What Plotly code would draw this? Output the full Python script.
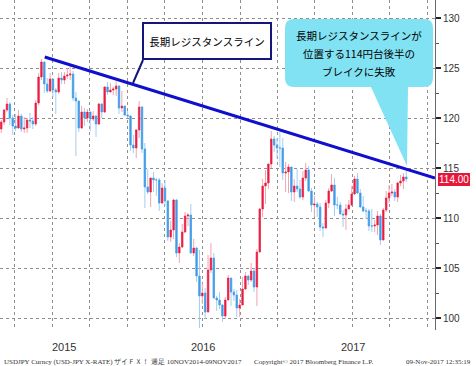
import plotly.graph_objects as go
import pandas as pd

# ---------------- data (weekly USDJPY, week-ending Fridays) ----------------
FIRST_WEEK = "2015-02-27"
OPEN = [118.9, 119.6, 120.8, 121.4, 120.0, 119.2, 119.0, 120.2, 118.9, 119.0,
        119.8, 119.7, 119.4, 121.5, 124.1, 125.6, 123.4, 122.7, 123.9, 122.8,
        122.6, 124.0, 123.8, 124.2, 124.3, 124.4, 122.0, 121.7, 119.0, 120.6,
        120.0, 120.6, 119.9, 120.2, 119.4, 121.4, 120.6, 123.1, 122.6, 122.8,
        122.9, 123.2, 121.0, 121.2, 120.3,
        120.2, 117.3, 117.0, 118.8, 121.1, 116.9, 113.1, 112.6, 114.0, 113.8,
        113.8, 111.5, 113.0, 111.7, 108.1, 108.8, 111.8, 106.5, 107.1, 108.6,
        110.2, 110.3, 106.5, 107.0, 104.2, 102.2, 102.5, 100.6, 104.8, 106.0,
        102.0, 101.8, 101.3, 100.2, 101.8, 104.0, 102.6, 102.3, 101.0, 101.3,
        102.9, 104.2, 103.8, 104.7, 103.1, 106.6, 110.9, 113.2, 113.5, 115.4,
        117.9, 117.3,
        117.0, 117.0, 114.5, 114.6, 115.1, 112.6, 113.2, 112.9, 112.1, 114.0,
        114.8, 112.7, 111.3, 111.4, 111.1, 109.1, 109.0, 111.5, 112.7, 113.3,
        111.3, 111.3, 110.4, 110.3, 110.9, 111.3, 112.4, 113.9, 112.5, 111.1,
        110.7, 110.7, 109.2, 109.2, 109.3, 110.2, 107.8, 110.8, 112.0, 112.5,
        112.6, 112.1, 113.5, 113.7, 114.1]
HIGH = [119.8, 120.9, 122.0, 121.6, 120.3, 120.4, 120.8, 120.4, 120.1, 120.0,
        120.5, 120.1, 121.8, 124.5, 125.9, 125.6, 124.0, 124.5, 123.9, 123.0,
        124.5, 124.6, 124.6, 125.0, 125.3, 124.7, 122.6, 121.7, 121.2, 121.0,
        120.9, 120.6, 120.7, 120.3, 121.5, 121.5, 123.2, 123.6, 123.5, 123.1,
        123.7, 123.3, 122.7, 121.2, 120.7,
        120.3, 118.3, 118.9, 121.7, 121.2, 117.5, 114.9, 114.0, 114.6, 114.0,
        114.0, 113.5, 113.8, 111.8, 109.7, 111.9, 111.9, 107.5, 109.4, 110.6,
        110.5, 111.4, 107.9, 107.1, 106.8, 103.5, 103.0, 106.3, 107.5, 106.5,
        102.2, 102.6, 101.4, 102.1, 104.3, 104.0, 102.9, 102.8, 101.9, 104.1,
        104.6, 104.3, 105.5, 105.0, 106.9, 111.0, 113.9, 114.8, 115.4, 118.7,
        118.2, 118.0,
        118.6, 118.0, 115.6, 115.4, 115.1, 113.9, 114.9, 113.8, 114.7, 115.5,
        115.2, 113.0, 112.2, 111.6, 111.5, 109.5, 111.8, 113.0, 114.4, 114.0,
        112.1, 111.6, 110.8, 111.4, 111.8, 113.2, 114.2, 114.5, 112.9, 112.2,
        111.0, 110.9, 110.9, 109.8, 110.7, 110.4, 111.0, 112.7, 113.3, 113.4,
        112.9, 113.6, 114.3, 114.5, 114.7]
LOW = [118.5, 119.3, 120.6, 119.3, 118.3, 118.7, 118.9, 118.6, 118.5, 118.5,
       119.0, 118.9, 119.2, 121.3, 123.8, 122.5, 122.5, 122.6, 122.1, 120.4,
       122.4, 123.4, 123.4, 123.9, 123.8, 121.7, 116.2, 118.6, 118.9, 119.2,
       119.6, 118.7, 119.7, 118.1, 119.3, 120.0, 120.5, 122.3, 122.6, 122.3,
       122.2, 120.4, 120.6, 120.2, 120.0,
       116.7, 116.5, 116.0, 118.0, 116.5, 111.0, 112.4, 111.1, 112.6, 112.2,
       110.7, 111.4, 111.2, 107.7, 107.6, 107.9, 106.1, 105.5, 107.0, 108.5,
       109.2, 106.5, 106.2, 103.6, 99.0, 101.4, 99.9, 100.6, 104.5, 102.1,
       100.7, 100.9, 99.6, 99.9, 101.8, 101.2, 101.7, 100.1, 100.1, 101.3,
       102.8, 103.3, 103.6, 102.6, 101.2, 106.6, 110.1, 111.4, 112.9, 115.0,
       116.6, 116.0,
       115.1, 113.8, 112.6, 112.5, 111.7, 111.6, 112.6, 111.9, 111.8, 113.7,
       112.6, 110.6, 110.1, 110.1, 108.7, 108.1, 109.0, 111.0, 112.6, 110.2,
       110.9, 110.4, 109.1, 108.8, 110.9, 111.2, 112.3, 112.4, 111.0, 110.6,
       109.9, 108.7, 108.6, 108.6, 108.3, 107.3, 107.8, 110.6, 111.5, 112.2,
       111.7, 111.6, 113.2, 112.9, 113.6]
CLOSE = [119.6, 120.8, 121.4, 120.0, 119.2, 119.0, 120.2, 118.9, 119.0, 119.8,
         119.7, 119.4, 121.5, 124.1, 125.6, 123.4, 122.7, 123.9, 122.8, 122.6,
         124.0, 123.8, 124.2, 124.3, 124.4, 122.0, 121.7, 119.0, 120.6, 120.0,
         120.6, 119.9, 120.2, 119.4, 121.4, 120.6, 123.1, 122.6, 122.8, 122.9,
         123.2, 121.0, 121.2, 120.3, 120.2,
         117.3, 117.0, 118.8, 121.1, 116.9, 113.1, 112.6, 114.0, 113.8, 113.8,
         111.5, 113.0, 111.7, 108.1, 108.8, 111.8, 106.5, 107.1, 108.6, 110.2,
         110.3, 106.5, 107.0, 104.2, 102.2, 102.5, 100.6, 104.8, 106.0, 102.0,
         101.8, 101.3, 100.2, 101.8, 104.0, 102.6, 102.3, 101.0, 101.3, 102.9,
         104.2, 103.8, 104.7, 103.1, 106.6, 110.9, 113.2, 113.5, 115.4, 117.9,
         117.3, 117.0,
         117.0, 114.5, 114.6, 115.1, 112.6, 113.2, 112.9, 112.1, 114.0, 114.8,
         112.7, 111.3, 111.4, 111.1, 109.1, 109.0, 111.5, 112.7, 113.3, 111.3,
         111.3, 110.4, 110.3, 110.9, 111.3, 112.4, 113.9, 112.5, 111.1, 110.7,
         110.7, 109.2, 109.2, 109.3, 110.2, 107.8, 110.8, 112.0, 112.5, 112.6,
         112.1, 113.5, 113.7, 114.1, 113.9]

TREND_X = ["2015-06-13", "2018-01-19"]
TREND_Y = [126.1, 114.0]

X_RANGE = ["2015-02-24", "2018-01-19"]
Y_RANGE = [98.8, 131.8]
Y_TICKS = [100, 105, 110, 115, 120, 125, 130]
GRID_DATES = ["2015-04-01", "2015-07-01", "2015-10-01", "2016-01-01", "2016-04-01",
              "2016-07-01", "2016-10-01", "2017-01-01", "2017-04-01", "2017-07-01",
              "2017-10-01", "2018-01-01"]
YEARS = ["2015", "2016", "2017"]
LAST_PRICE = 114.00

LABEL_1 = "長期レジスタンスライン"
LABEL_2 = ["長期レジスタンスラインが", "位置する114円台後半の", "ブレイクに失敗"]
FOOT_L = "USDJPY Curncy (USD-JPY X-RATE) ザイＦＸ！ 週足 10NOV2014-09NOV2017"
FOOT_M = "Copyright© 2017 Bloomberg Finance L.P."
FOOT_R = "09-Nov-2017 12:35:19"

# ---------------- styling ----------------
UP_BODY, UP_WICK = "#ec1b3f", "#f4a3b2"
DN_BODY, DN_WICK = "#3f9ce8", "#a3cdf3"
TREND_COLOR = "#1010cc"
NAVY = "#16167a"
CYAN = "#80e2f2"
GRID = "#8f8f8f"
CJK = "Noto Sans CJK JP"
LAT = "Liberation Sans, Arial, sans-serif"

W, H = 476, 366
ML, MR, MT, MB = 0, 41, 0, 36
PW, PH = W - ML - MR, H - MT - MB


def px(xp):
    return (xp - ML) / PW


def py(yp):
    return 1 - (yp - MT) / PH


dates = pd.date_range(FIRST_WEEK, periods=len(CLOSE), freq="7D")
body_hi = [max(o, c) for o, c in zip(OPEN, CLOSE)]
body_lo = [min(o, c) for o, c in zip(OPEN, CLOSE)]

fig = go.Figure()
fig.add_trace(go.Candlestick(
    x=dates, open=OPEN, high=HIGH, low=LOW, close=CLOSE,
    increasing=dict(line=dict(color=UP_WICK, width=1), fillcolor=UP_WICK),
    decreasing=dict(line=dict(color=DN_WICK, width=1), fillcolor=DN_WICK),
    whiskerwidth=0, hoverinfo="skip", showlegend=False))
fig.add_trace(go.Candlestick(
    x=dates, open=OPEN, high=body_hi, low=body_lo, close=CLOSE,
    increasing=dict(line=dict(color=UP_BODY, width=0.5), fillcolor=UP_BODY),
    decreasing=dict(line=dict(color=DN_BODY, width=0.5), fillcolor=DN_BODY),
    whiskerwidth=0, hoverinfo="skip", showlegend=False))
fig.add_trace(go.Scatter(x=TREND_X, y=TREND_Y, mode="lines",
                         line=dict(color=TREND_COLOR, width=3),
                         hoverinfo="skip", showlegend=False))

fig.update_layout(
    width=W, height=H, margin=dict(l=ML, r=MR, t=MT, b=MB),
    paper_bgcolor="white", plot_bgcolor="white", showlegend=False,
    boxmode="overlay",
    xaxis=dict(type="date", range=X_RANGE, tickvals=GRID_DATES, showticklabels=False,
               showgrid=True, gridcolor=GRID, griddash="dot", gridwidth=1,
               zeroline=False, showline=False, ticks="",
               rangeslider=dict(visible=False)),
    yaxis=dict(side="right", range=Y_RANGE, tickvals=Y_TICKS,
               showgrid=True, gridcolor=GRID, griddash="dot", gridwidth=1,
               zeroline=False, showline=True, linecolor="#6a6a6a", linewidth=1,
               ticks="outside", ticklen=5, tickwidth=2, tickcolor="#222",
               tickfont=dict(family=LAT, size=10, color="#333"),
               minor=dict(dtick=2.5, ticks="outside", ticklen=3, tickcolor="#555",
                          tickwidth=1, showgrid=False)),
)

# year labels centred on visible part of each year
x0, x1 = pd.Timestamp(X_RANGE[0]), pd.Timestamp(X_RANGE[1])
for yr in YEARS:
    a = max(pd.Timestamp(f"{yr}-01-01"), x0)
    b = min(pd.Timestamp(f"{int(yr) + 1}-01-01"), x1)
    mid = a + (b - a) / 2
    fig.add_annotation(x=mid, xref="x", y=py(347), yref="paper", text=yr,
                       xanchor="center", yanchor="middle",
                       showarrow=False, font=dict(family=LAT, size=11, color="#333"))

# last price tag
fig.add_annotation(x=1, xref="paper", xanchor="left", xshift=3, y=LAST_PRICE, yref="y",
                   yanchor="middle", yshift=-1,
                   text=f"{LAST_PRICE:.2f}", showarrow=False, bgcolor="#e8173a",
                   bordercolor="#e8173a", borderpad=0,
                   font=dict(family=LAT, size=10, color="white"))

# callout 1 (white box with navy border)
fig.add_annotation(x=px(207), y=py(41), xref="paper", yref="paper", text=LABEL_1,
                   xanchor="center", yanchor="middle",
                   showarrow=False, width=124, height=32, bgcolor="white",
                   bordercolor=NAVY, borderwidth=2, borderpad=1,
                   font=dict(family=CJK, size=10.5, color="black"))
fig.add_shape(type="line", xref="paper", yref="paper",
              x0=px(143), y0=py(60), x1=px(133), y1=py(83),
              line=dict(color=NAVY, width=2))

# callout 2 (cyan rounded speech bubble)
bx0, bx1, by0, by1, r = 285, 433, 19, 87, 9
tip = (407, 166)


def P(a, b):
    return f"{px(a):.5f},{py(b):.5f}"


path = (f"M {P(bx0 + r, by0)} L {P(bx1 - r, by0)} Q {P(bx1, by0)} {P(bx1, by0 + r)} "
        f"L {P(bx1, by1 - r)} Q {P(bx1, by1)} {P(bx1 - r, by1)} "
        f"L {P(408, by1)} L {P(*tip)} L {P(371, by1)} "
        f"L {P(bx0 + r, by1)} Q {P(bx0, by1)} {P(bx0, by1 - r)} "
        f"L {P(bx0, by0 + r)} Q {P(bx0, by0)} {P(bx0 + r, by0)} Z")
fig.add_shape(type="path", xref="paper", yref="paper", path=path,
              fillcolor=CYAN, line=dict(width=0), layer="above")
for text, yc in zip(LABEL_2, [35, 54, 72]):
    fig.add_annotation(x=px(359), y=py(yc), xref="paper", yref="paper", text=text,
                       xanchor="center", yanchor="middle",
                       showarrow=False, font=dict(family=CJK, size=10.5, color="black"))

# footer
FOOT_FONT = dict(family="Liberation Serif, serif", size=7, color="#333")
fig.add_annotation(x=px(2), y=py(362), xref="paper", yref="paper", xanchor="left",
                   yanchor="middle", text=FOOT_L, showarrow=False, font=FOOT_FONT)
fig.add_annotation(x=px(252), y=py(362), xref="paper", yref="paper", xanchor="left",
                   yanchor="middle", text=FOOT_M, showarrow=False, font=FOOT_FONT)
fig.add_annotation(x=px(473), y=py(362), xref="paper", yref="paper", xanchor="right",
                   yanchor="middle", text=FOOT_R, showarrow=False, font=FOOT_FONT)

fig.write_html("out.html", config={"displayModeBar": False},
               post_script="document.body.style.margin='0px';"
                           "document.body.style.overflow='hidden';")
